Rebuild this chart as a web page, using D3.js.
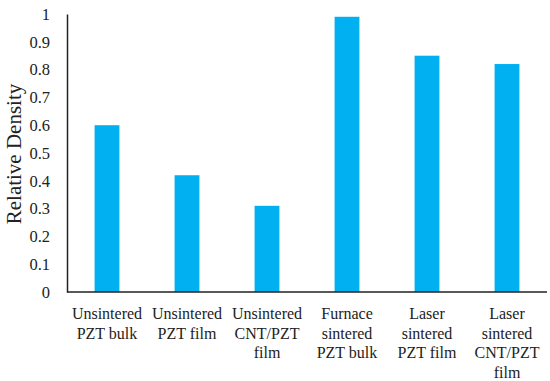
<!DOCTYPE html>
<html>
<head>
<meta charset="utf-8">
<script src="https://cdn.jsdelivr.net/npm/d3@7.9.0/dist/d3.min.js"></script>
<style>
  body { margin: 0; background: #fff; }
  svg { display: block; }
  svg text { font-family: "Liberation Serif", "Times New Roman", serif; }
</style>
</head>
<body>
<svg id="chart" width="550" height="381"></svg>
<script>
// data
const categories = [
  ["Unsintered", "PZT bulk"],
  ["Unsintered", "PZT film"],
  ["Unsintered", "CNT/PZT", "film"],
  ["Furnace", "sintered", "PZT bulk"],
  ["Laser", "sintered", "PZT film"],
  ["Laser", "sintered", "CNT/PZT", "film"]
];
const density = [0.6, 0.42, 0.31, 0.99, 0.85, 0.82];
const yTicks = [0, 0.1, 0.2, 0.3, 0.4, 0.5, 0.6, 0.7, 0.8, 0.9, 1];

const svg = d3.select('#chart');
const plotLeft = 67, plotRight = 547, plotTop = 14, plotBottom = 292;

const x = d3.scaleBand()
  .domain(d3.range(categories.length))
  .range([plotLeft, plotRight])
  .paddingInner(0.69)
  .paddingOuter(0.345);

const y = d3.scaleLinear().domain([0, 1]).range([plotBottom, plotTop]);

// bars
svg.selectAll('rect.bar')
  .data(density)
  .enter()
  .append('rect')
  .attr('class', 'bar')
  .attr('x', (d, i) => x(i))
  .attr('width', x.bandwidth())
  .attr('y', d => y(d))
  .attr('height', d => plotBottom - y(d))
  .attr('fill', '#00B0F0');

// y axis
let yAxis = svg.append('g')
  .attr('transform', `translate(${plotLeft},0)`)
  .call(d3.axisLeft(y).tickValues(yTicks).tickSize(0).tickPadding(17).tickFormat(d => String(+d.toFixed(1))));
yAxis.attr('font-family', null).attr('font-size', null);
yAxis.select('.domain').attr('stroke', '#222').attr('stroke-width', 1.5);
yAxis.selectAll('text')
  .style('font-size', '16.5px')
  .attr('fill', '#222');

// x axis line
svg.append('line')
  .attr('x1', plotLeft).attr('x2', plotRight)
  .attr('y1', plotBottom).attr('y2', plotBottom)
  .attr('stroke', '#222').attr('stroke-width', 1.5);

// category labels
let labels = svg.selectAll('text.cat')
  .data(categories)
  .enter()
  .append('text')
  .attr('class', 'cat')
  .attr('text-anchor', 'middle')
  .style('font-size', '16px')
  .attr('fill', '#222')
  .attr('x', (d, i) => x(i) + x.bandwidth() / 2)
  .attr('y', 319);
labels.selectAll('tspan')
  .data(d => d)
  .enter()
  .append('tspan')
  .attr('x', function () { return d3.select(this.parentNode).attr('x'); })
  .attr('dy', (d, i) => i === 0 ? 0 : 19.5)
  .text(d => d);

// y axis title
svg.append('text')
  .attr('transform', 'translate(21,154) rotate(-90)')
  .attr('text-anchor', 'middle')
  .style('font-size', '21px')
  .attr('fill', '#222')
  .text('Relative Density');
</script>
</body>
</html>
